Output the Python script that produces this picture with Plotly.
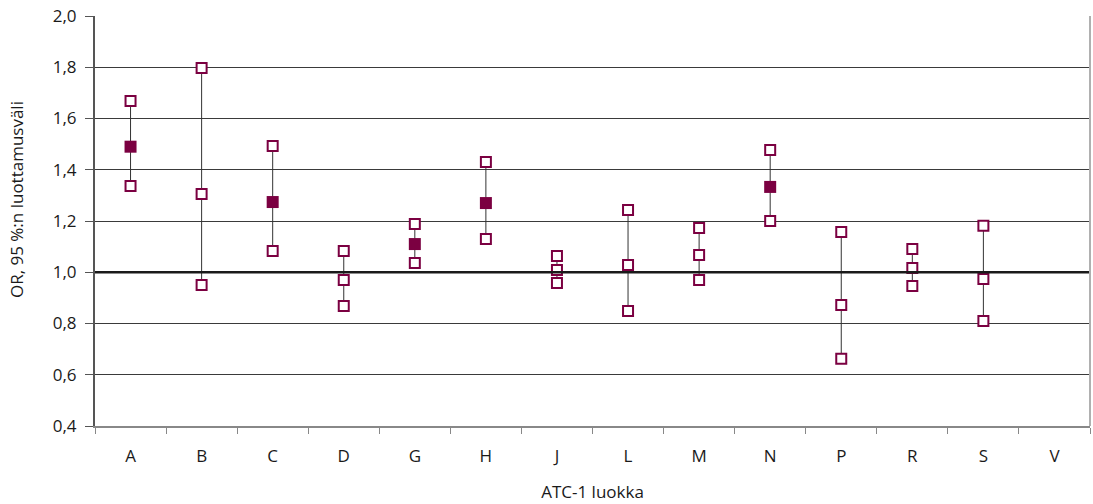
import plotly.graph_objects as go

# ATC-1 main groups and odds ratios with 95 % confidence limits
categories = ["A", "B", "C", "D", "G", "H", "J", "L", "M", "N", "P", "R", "S", "V"]
or_point = [1.49, 1.305, 1.274, 0.970, 1.110, 1.270, 1.009, 1.028, 1.067, 1.333, 0.872, 1.017, 0.974, None]
ci_lower = [1.337, 0.950, 1.083, 0.868, 1.036, 1.130, 0.958, 0.849, 0.970, 1.200, 0.662, 0.946, 0.810, None]
ci_upper = [1.668, 1.797, 1.493, 1.083, 1.188, 1.430, 1.063, 1.243, 1.173, 1.477, 1.157, 1.091, 1.181, None]
REFERENCE_OR = 1.0

MAROON = "#7b0041"
FONT = "Open Sans"

# vertical whiskers joining the lower and upper limits
wx, wy = [], []
for c, lo, hi in zip(categories, ci_lower, ci_upper):
    if lo is None:
        continue
    wx += [c, c, None]
    wy += [lo, hi, None]

# point estimates: filled when the whole interval lies above 1
sig_x, sig_y, ns_x, ns_y = [], [], [], []
for c, p, lo in zip(categories, or_point, ci_lower):
    if p is None:
        continue
    if lo > REFERENCE_OR:
        sig_x.append(c); sig_y.append(p)
    else:
        ns_x.append(c); ns_y.append(p)

lim_x = [c for c, lo in zip(categories, ci_lower) if lo is not None] * 2
lim_y = [v for v in ci_lower if v is not None] + [v for v in ci_upper if v is not None]

hollow = dict(symbol="square", size=10, color="white", line=dict(color=MAROON, width=2))

fig = go.Figure()
fig.add_trace(go.Scatter(x=wx, y=wy, mode="lines", line=dict(color="#333333", width=1),
                         hoverinfo="skip", showlegend=False))
fig.add_trace(go.Scatter(x=lim_x, y=lim_y, mode="markers", marker=hollow, showlegend=False))
fig.add_trace(go.Scatter(x=ns_x, y=ns_y, mode="markers", marker=hollow, showlegend=False))
fig.add_trace(go.Scatter(x=sig_x, y=sig_y, mode="markers",
                         marker=dict(symbol="square", size=12, color=MAROON, line=dict(width=0)),
                         showlegend=False))

# reference line at OR = 1 and the light right-hand frame edge
fig.add_shape(type="line", xref="paper", yref="y", x0=0, x1=1, y0=REFERENCE_OR, y1=REFERENCE_OR,
              line=dict(color="#1a1a1a", width=2.5), layer="above")
fig.add_shape(type="line", xref="paper", yref="paper", x0=1, x1=1, y0=0, y1=1,
              line=dict(color="#b0b0b0", width=2))

# vertical axis title, placed a little above the plot's centre
fig.add_annotation(text="OR, 95 %:n luottamusväli", textangle=-90,
                   xref="paper", yref="paper", x=0, y=0.551, xshift=-79,
                   showarrow=False, font=dict(size=17), xanchor="center", yanchor="middle")

fig.update_layout(
    width=1093, height=504,
    margin=dict(l=95, r=3, t=16, b=78),
    paper_bgcolor="white", plot_bgcolor="white",
    separators=", ",
    font=dict(family=FONT, size=17, color="#1a1a1a"),
    xaxis=dict(
        type="category", categoryorder="array", categoryarray=categories,
        range=[-0.5, len(categories) - 0.5],
        showgrid=False, showline=True, linecolor="#888888", linewidth=2,
        ticks="outside", tickson="boundaries", ticklen=6, tickcolor="#888888",
        tickfont=dict(size=17), ticklabelstandoff=14,
        title=dict(text="ATC-1 luokka", font=dict(size=17), standoff=20),
    ),
    yaxis=dict(
        range=[0.4, 2.0], dtick=0.2, tick0=0.4, tickformat=".1f",
        showgrid=True, gridcolor="#3a3a3a", gridwidth=1, zeroline=False,
        showline=True, linecolor="#555555", linewidth=2,
        ticks="outside", ticklen=8, tickcolor="#555555",
        tickfont=dict(size=17), ticklabelstandoff=5,
    ),
)

fig.write_html("out.html")
